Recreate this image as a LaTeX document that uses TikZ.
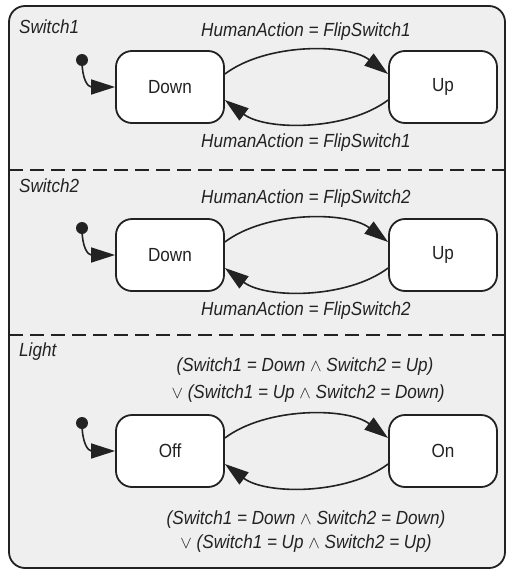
\documentclass[tikz,border=0pt]{standalone}
\usepackage{fontspec}
\setmainfont{Liberation Sans}
\newfontfamily\condfont[FakeStretch=0.9]{Liberation Sans}
\usetikzlibrary{arrows.meta}
\definecolor{bg}{HTML}{EFEFEF}
\definecolor{ln}{HTML}{222222}
\tikzset{
  state/.style={draw=ln, line width=1.8pt, fill=white, rounded corners=16pt,
    minimum width=108pt, minimum height=72pt, inner sep=0pt, font=\condfont\fontsize{19}{22}\selectfont, text=ln},
  lbl/.style={font=\condfont\fontsize{19}{22}\selectfont\itshape, inner sep=0pt, text=ln},
  region/.style={font=\condfont\fontsize{19}{22}\selectfont\itshape, inner sep=0pt, anchor=west, text=ln},
  trans/.style={draw=ln, line width=1.6pt, -{Triangle[length=24pt,width=15pt]}},
  initdot/.style={circle, fill=ln, minimum size=12pt, inner sep=0pt},
  sep/.style={draw=ln, line width=1.8pt, dash pattern=on 14pt off 7pt},
}
\begin{document}
\begin{tikzpicture}[x=1pt,y=-1pt]
\useasboundingbox (0,0) rectangle (511,573);
\fill[white] (0,0) rectangle (511,573);
\draw[draw=ln, line width=1.8pt, fill=bg, rounded corners=16pt] (9,6) rectangle (505,568);
\coordinate (s1l) at (9,170); \coordinate (s1r) at (505,170);
\coordinate (s2l) at (9,335); \coordinate (s2r) at (505,335);
\draw[sep] (s1l) -- (s1r);
\draw[sep] (s2l) -- (s2r);

% Switch1
\node[region] (r1) at (19,27) {Switch1};
\node[state] (d1) at (170,87) {Down};
\node[state] (u1) at (443,87) {Up};
\node[initdot] (i1) at (82,60) {};
\draw[trans] (i1.center) .. controls (82,80) and (88,87) .. (d1.west);
\draw[trans] ([yshift=13pt]d1.east) .. controls +(41,-31) and +(-41,-31) .. ([yshift=13pt]u1.west);
\draw[trans] ([yshift=-13pt]u1.west) .. controls +(-41,31) and +(41,31) .. ([yshift=-13pt]d1.east);
\node[lbl] (t1) at (306,32) {HumanAction = FlipSwitch1};
\node[lbl] (b1) at (306,143) {HumanAction = FlipSwitch1};

% Switch2
\node[region] (r2) at (19,186) {Switch2};
\node[state] (d2) at (170,255) {Down};
\node[state] (u2) at (443,255) {Up};
\node[initdot] (i2) at (82,228) {};
\draw[trans] (i2.center) .. controls (82,248) and (88,255) .. (d2.west);
\draw[trans] ([yshift=13pt]d2.east) .. controls +(41,-31) and +(-41,-31) .. ([yshift=13pt]u2.west);
\draw[trans] ([yshift=-13pt]u2.west) .. controls +(-41,31) and +(41,31) .. ([yshift=-13pt]d2.east);
\node[lbl] (t2) at (306,199) {HumanAction = FlipSwitch2};
\node[lbl] (b2) at (306,311) {HumanAction = FlipSwitch2};

% Light
\node[region] (r3) at (19,352) {Light};
\node[state] (d3) at (170,451) {Off};
\node[state] (u3) at (443,451) {On};
\node[initdot] (i3) at (82,423) {};
\draw[trans] (i3.center) .. controls (82,443) and (88,451) .. (d3.west);
\draw[trans] ([yshift=13pt]d3.east) .. controls +(41,-31) and +(-41,-31) .. ([yshift=13pt]u3.west);
\draw[trans] ([yshift=-13pt]u3.west) .. controls +(-41,31) and +(41,31) .. ([yshift=-13pt]d3.east);
\node[lbl] (t3a) at (305,367) {(Switch1 = Down {\upshape$\wedge$} Switch2 = Up)};
\node[lbl] (t3b) at (308,394) {{\upshape$\vee$} (Switch1 = Up {\upshape$\wedge$} Switch2 = Down)};
\node[lbl] (b3a) at (306,520) {(Switch1 = Down {\upshape$\wedge$} Switch2 = Down)};
\node[lbl] (b3b) at (306,544) {{\upshape$\vee$} (Switch1 = Up {\upshape$\wedge$} Switch2 = Up)};
\end{tikzpicture}
\end{document}
